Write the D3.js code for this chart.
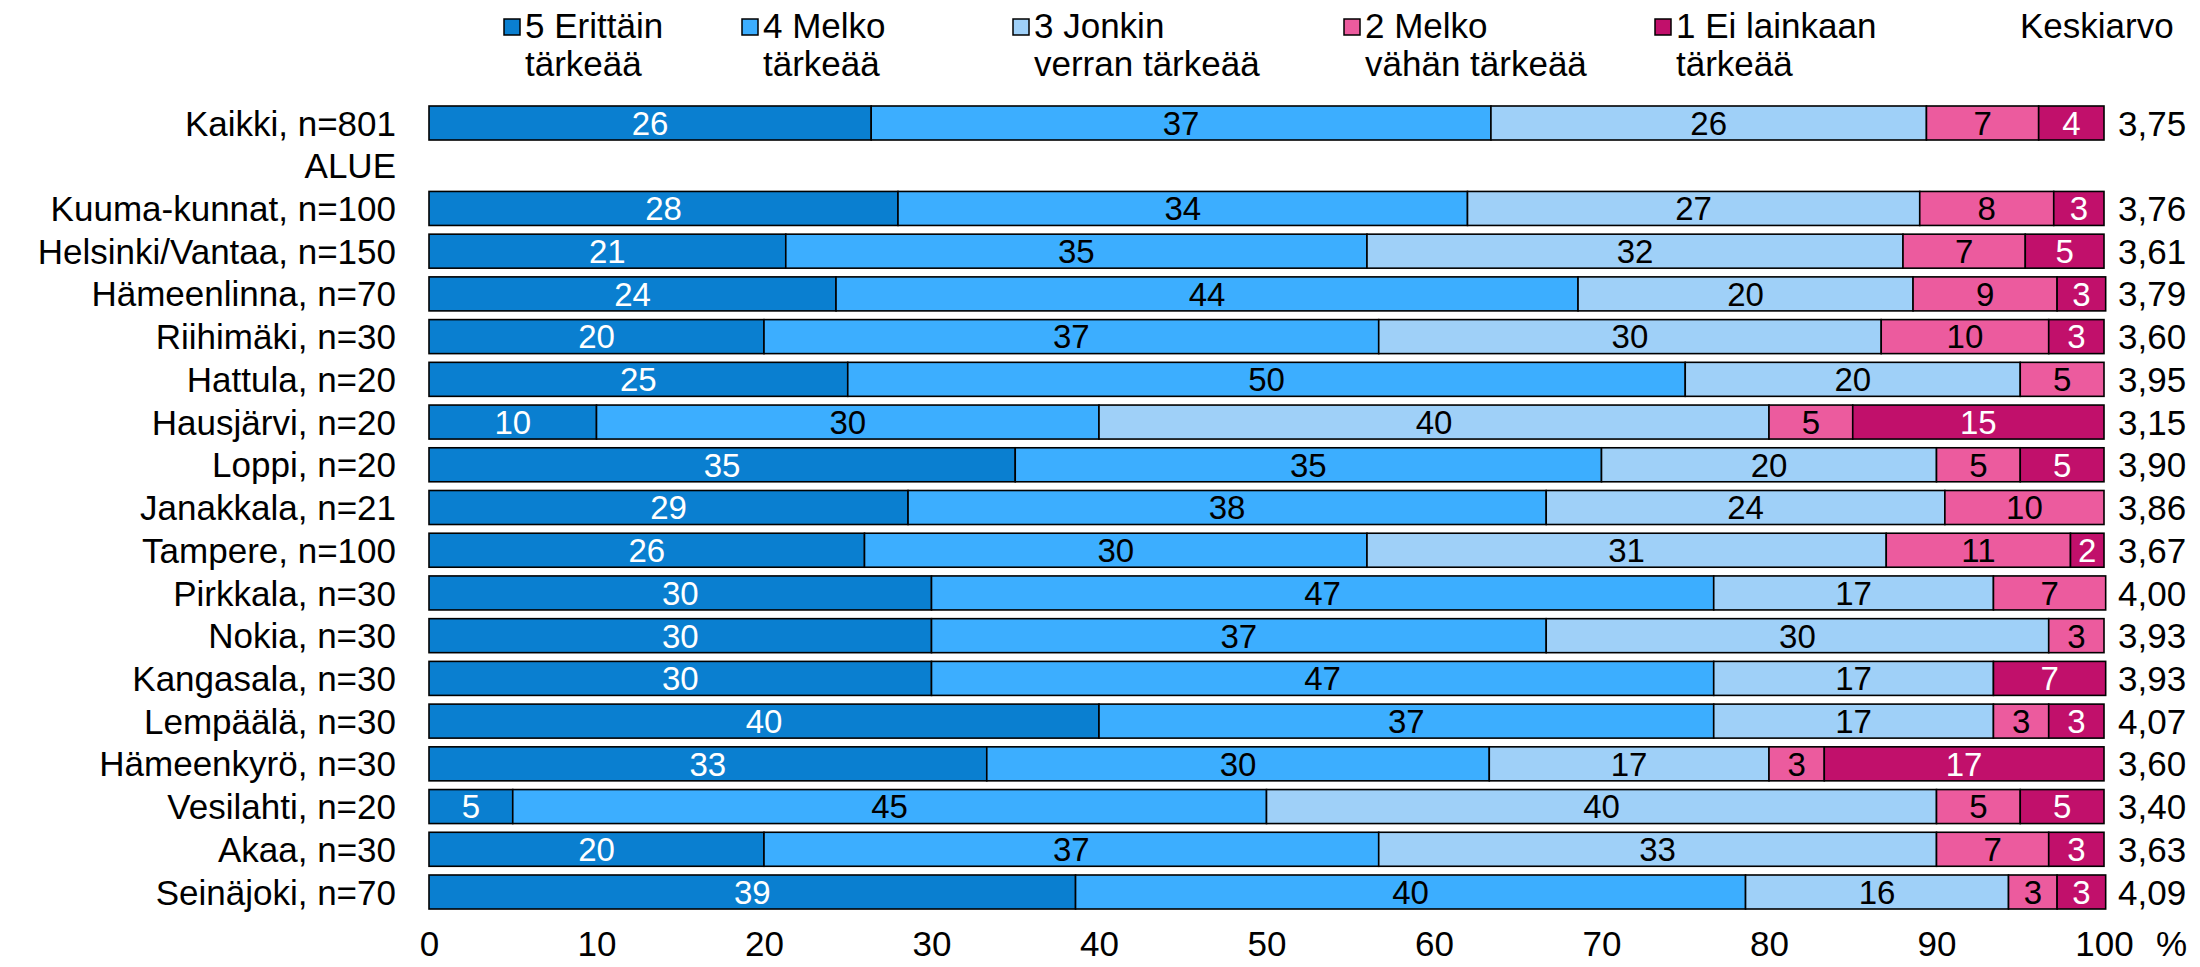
<!DOCTYPE html>
<html>
<head>
<meta charset="utf-8">
<script src="https://cdn.jsdelivr.net/npm/d3@7"></script>
<style>
  body { margin: 0; background: #fff; }
  svg text { font-family: "Liberation Sans", Arial, sans-serif; fill: #000; }
</style>
</head>
<body>
<svg id="chart" width="2200" height="967"></svg>
<script>
const rows = ["Kaikki, n=801", "ALUE", "Kuuma-kunnat, n=100", "Helsinki/Vantaa, n=150", "Hämeenlinna, n=70",
  "Riihimäki, n=30", "Hattula, n=20", "Hausjärvi, n=20", "Loppi, n=20", "Janakkala, n=21", "Tampere, n=100",
  "Pirkkala, n=30", "Nokia, n=30", "Kangasala, n=30", "Lempäälä, n=30", "Hämeenkyrö, n=30", "Vesilahti, n=20",
  "Akaa, n=30", "Seinäjoki, n=70"]

// shares (%) per answer, null = heading row without bar
const v5 = [26.4, null, 28, 21.3, 24.3, 20, 25, 10, 35, 28.6, 26, 30, 30, 30, 40, 33.3, 5, 20, 38.6]
const v4 = [37.0, null, 34, 34.7, 44.3, 36.7, 50, 30, 35, 38.1, 30, 46.7, 36.7, 46.7, 36.7, 30, 45, 36.7, 40]
const v3 = [26.0, null, 27, 32, 20, 30, 20, 40, 20, 23.8, 31, 16.7, 30, 16.7, 16.7, 16.7, 40, 33.3, 15.7]
const v2 = [6.7, null, 8, 7.3, 8.6, 10, 5, 5, 5, 9.5, 11, 6.7, 3.3, 0, 3.3, 3.3, 5, 6.7, 2.9]
const v1 = [3.9, null, 3, 4.7, 2.9, 3.3, 0, 15, 5, 0, 2, 0, 0, 6.7, 3.3, 16.7, 5, 3.3, 2.9]
const means = [3.75, null, 3.76, 3.61, 3.79, 3.60, 3.95, 3.15, 3.90, 3.86, 3.67, 4.00, 3.93, 3.93, 4.07, 3.60, 3.40, 3.63, 4.09]

const seriesNames = [["5 Erittäin", "tärkeää"], ["4 Melko", "tärkeää"], ["3 Jonkin", "verran tärkeää"],
  ["2 Melko", "vähän tärkeää"], ["1 Ei lainkaan", "tärkeää"]]
const colors = ["#0a7fd0", "#3caeff", "#9fd0f8", "#ec5b9e", "#c1106b"]
const textColors = ["#fff", "#000", "#000", "#000", "#fff"]
const xTicks = [0, 10, 20, 30, 40, 50, 60, 70, 80, 90, 100]
const meanTitle = "Keskiarvo"

// layout
const legendX = [525, 763, 1034, 1365, 1676]
const FS = 35

const svg = d3.select("#chart")
const x = d3.scaleLinear().domain([0, 100]).range([429, 2104])
const y = d3.scalePoint().domain(rows).range([123, 892])
const barH = 34

const table = rows.map((r, i) => ({ row: r, vals: [v5[i], v4[i], v3[i], v2[i], v1[i]], mean: means[i] }))
const stack = d3.stack().keys([0, 1, 2, 3, 4]).value((d, k) => d.vals[k] || 0)
const stacked = stack(table.filter(d => d.vals[0] !== null))

// row labels
svg.append("g").selectAll("text")
  .data(rows)
  .join("text")
  .attr("x", 396)
  .attr("y", d => y(d))
  .attr("dy", "0.36em")
  .attr("text-anchor", "end")
  .style("font-size", FS + "px")
  .text(d => d)

// segments
const layers = svg.append("g").selectAll("g")
  .data(stacked)
  .join("g")

layers.selectAll("rect")
  .data(d => d.filter(s => s[1] - s[0] > 0))
  .join("rect")
  .attr("x", s => x(s[0]))
  .attr("y", s => y(s.data.row) - barH / 2)
  .attr("width", s => x(s[1]) - x(s[0]))
  .attr("height", barH)
  .attr("fill", function () { return colors[d3.select(this.parentNode).datum().key] })
  .attr("stroke", "#000")
  .attr("stroke-width", 1.6)

layers.selectAll("text")
  .data(d => d.filter(s => s[1] - s[0] > 0).map(s => Object.assign(s, { key: d.key })))
  .join("text")
  .attr("x", s => (x(s[0]) + x(s[1])) / 2)
  .attr("y", s => y(s.data.row))
  .attr("dy", "0.36em")
  .attr("text-anchor", "middle")
  .style("font-size", "33px")
  .style("fill", s => textColors[s.key])
  .text(s => Math.round(s[1] - s[0]))

// means
svg.append("g").selectAll("text")
  .data(table.filter(d => d.mean !== null))
  .join("text")
  .attr("x", 2118)
  .attr("y", d => y(d.row))
  .attr("dy", "0.36em")
  .style("font-size", FS + "px")
  .text(d => d.mean.toFixed(2).replace(".", ","))

// x axis
const axis = svg.append("g")
  .attr("transform", "translate(0,928)")
  .call(d3.axisBottom(x).tickValues(xTicks).tickSize(0).tickPadding(3).tickFormat(d3.format("d")))
axis.select(".domain").remove()
axis.selectAll("text").style("font-size", FS + "px").attr("fill", "#000")
  .style("font-family", "'Liberation Sans', Arial, sans-serif")
svg.append("text").attr("x", 2156).attr("y", 956).style("font-size", FS + "px").text("%")

// legend
const leg = svg.append("g").selectAll("g")
  .data(seriesNames)
  .join("g")
  .attr("transform", (d, i) => `translate(${legendX[i]},0)`)
leg.append("rect")
  .attr("x", -21).attr("y", 19).attr("width", 16).attr("height", 16)
  .attr("fill", (d, i) => colors[i]).attr("stroke", "#000").attr("stroke-width", 1.5)
leg.selectAll("text")
  .data(d => d)
  .join("text")
  .attr("x", 0)
  .attr("y", (d, j) => 38 + j * 38)
  .style("font-size", FS + "px")
  .text(d => d)
svg.append("text").attr("x", 2020).attr("y", 38).style("font-size", FS + "px").text(meanTitle)
</script>
</body>
</html>
